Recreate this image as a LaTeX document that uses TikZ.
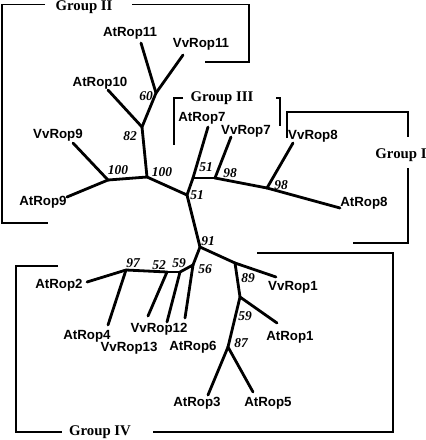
\documentclass[tikz,border=0pt]{standalone}
\usepackage{fontspec}
\setmainfont{Liberation Serif}
\setsansfont{Liberation Sans}
\begin{document}
\begin{tikzpicture}[x=1pt,y=-1pt,
  branch/.style={line width=2.8pt,line cap=round,line join=round},
  bracket/.style={line width=1.4pt},
  leaf/.style={inner sep=0pt,font=\sffamily\bfseries\fontsize{13.3}{15}\selectfont},
  boot/.style={inner sep=0pt,font=\rmfamily\bfseries\itshape\fontsize{13.5}{15}\selectfont},
  grp/.style={inner sep=0pt,font=\rmfamily\bfseries\fontsize{14.8}{16}\selectfont}]
\useasboundingbox (0,0) rectangle (426,440);
% internal nodes
\coordinate (n60) at (156,93);
\coordinate (n82) at (142,127);
\coordinate (n100a) at (108,180);
\coordinate (n100b) at (147,177);
\coordinate (n51a) at (187,195);
\coordinate (n51b) at (193,178);
\coordinate (n98a) at (215,178);
\coordinate (n98b) at (267,188);
\coordinate (n91) at (200,247);
\coordinate (n56) at (193,265);
\coordinate (n59a) at (180,272);
\coordinate (n52) at (167,272);
\coordinate (n97) at (126,270);
\coordinate (n89) at (235,263);
\coordinate (n59b) at (240,297);
\coordinate (n87) at (228,347);
% leaf ends
\coordinate (eAtRop11) at (141,43);
\coordinate (eVvRop11) at (183,55);
\coordinate (eAtRop10) at (108,90);
\coordinate (eVvRop9) at (73,143);
\coordinate (eAtRop9) at (67,197);
\coordinate (eAtRop7) at (208,127);
\coordinate (eVvRop7) at (231,137);
\coordinate (eVvRop8) at (293,143);
\coordinate (eAtRop8) at (340,208);
\coordinate (eAtRop2) at (87,282);
\coordinate (eAtRop4) at (108,325);
\coordinate (eVvRop13) at (148,316);
\coordinate (eVvRop12) at (167,322);
\coordinate (eAtRop6) at (185,318);
\coordinate (eVvRop1) at (276,277);
\coordinate (eAtRop1) at (277,323);
\coordinate (eAtRop3) at (208,395);
\coordinate (eAtRop5) at (253,392);
% branches
\draw[branch] (n100b) -- (n82);
\draw[branch] (n82) -- (eAtRop10);
\draw[branch] (n82) -- (n60);
\draw[branch] (n60) -- (eAtRop11);
\draw[branch] (n60) -- (eVvRop11);
\draw[branch] (n100b) -- (n100a);
\draw[branch] (n100a) -- (eVvRop9);
\draw[branch] (n100a) -- (eAtRop9);
\draw[branch] (n100b) -- (n51a);
\draw[branch] (n51a) -- (n51b);
\draw[branch] (n51b) -- (eAtRop7);
\draw[branch] (n51b) -- (n98a);
\draw[branch] (n98a) -- (eVvRop7);
\draw[branch] (n98a) -- (n98b);
\draw[branch] (n98b) -- (eVvRop8);
\draw[branch] (n98b) -- (eAtRop8);
\draw[branch] (n51a) -- (n91);
\draw[branch] (n91) -- (n56);
\draw[branch] (n56) -- (eAtRop6);
\draw[branch] (n56) -- (n59a);
\draw[branch] (n59a) -- (eVvRop12);
\draw[branch] (n59a) -- (n52);
\draw[branch] (n52) -- (eVvRop13);
\draw[branch] (n52) -- (n97);
\draw[branch] (n97) -- (eAtRop2);
\draw[branch] (n97) -- (eAtRop4);
\draw[branch] (n91) -- (n89);
\draw[branch] (n89) -- (eVvRop1);
\draw[branch] (n89) -- (n59b);
\draw[branch] (n59b) -- (eAtRop1);
\draw[branch] (n59b) -- (n87);
\draw[branch] (n87) -- (eAtRop3);
\draw[branch] (n87) -- (eAtRop5);
% leaf labels
\node[leaf] (lAtRop11) at (130,33) {AtRop11};
\node[leaf] (lVvRop11) at (201,44) {VvRop11};
\node[leaf] (lAtRop10) at (100,83) {AtRop10};
\node[leaf] (lVvRop9) at (58,135) {VvRop9};
\node[leaf] (lAtRop9) at (43,202) {AtRop9};
\node[leaf] (lAtRop7) at (202,118) {AtRop7};
\node[leaf] (lVvRop7) at (246,131) {VvRop7};
\node[leaf] (lVvRop8) at (313,136) {VvRop8};
\node[leaf] (lAtRop8) at (364,203) {AtRop8};
\node[leaf] (lAtRop2) at (59,285) {AtRop2};
\node[leaf] (lAtRop4) at (87,336) {AtRop4};
\node[leaf] (lVvRop13) at (129,348) {VvRop13};
\node[leaf] (lVvRop12) at (159,329) {VvRop12};
\node[leaf] (lAtRop6) at (193,347) {AtRop6};
\node[leaf] (lVvRop1) at (293,287) {VvRop1};
\node[leaf] (lAtRop1) at (290,337) {AtRop1};
\node[leaf] (lAtRop3) at (197,403) {AtRop3};
\node[leaf] (lAtRop5) at (268,403) {AtRop5};
% bootstrap values
\node[boot] (b60) at (146,96) {60};
\node[boot] (b82) at (130,136) {82};
\node[boot] (b100a) at (118,170) {100};
\node[boot] (b100b) at (162,172) {100};
\node[boot] (b51a) at (197,195) {51};
\node[boot] (b51b) at (206,167) {51};
\node[boot] (b98a) at (230,173) {98};
\node[boot] (b98b) at (281,185) {98};
\node[boot] (b91) at (208,241) {91};
\node[boot] (b56) at (205,269) {56};
\node[boot] (b59a) at (179,263) {59};
\node[boot] (b52) at (159,265) {52};
\node[boot] (b97) at (133,263) {97};
\node[boot] (b89) at (248,278) {89};
\node[boot] (b59b) at (245,316) {59};
\node[boot] (b87) at (241,343) {87};
% group brackets
\draw[bracket] (45,4.5) -- (2,4.5) -- (2,223) -- (48,223);
\draw[bracket] (132,4.5) -- (249,4.5) -- (249,62) -- (205,62);
\node[grp] (gII) at (84,7.5) {Group II};
\draw[bracket] (183,98) -- (174,98) -- (174,145);
\draw[bracket] (276,98) -- (280,98) -- (280,126);
\node[grp] (gIII) at (222,98) {Group III};
\draw[bracket] (287,138) -- (287,112) -- (408,112) -- (408,137);
\draw[bracket] (408,168) -- (408,243) -- (353,243);
\node[grp] (gI) at (401,155) {Group I};
\draw[bracket] (58,266) -- (16,266) -- (16,432) -- (62,432);
\draw[bracket] (153,432) -- (393,432) -- (393,253) -- (257,253);
\node[grp] (gIV) at (100,432) {Group IV};
\end{tikzpicture}
\end{document}
